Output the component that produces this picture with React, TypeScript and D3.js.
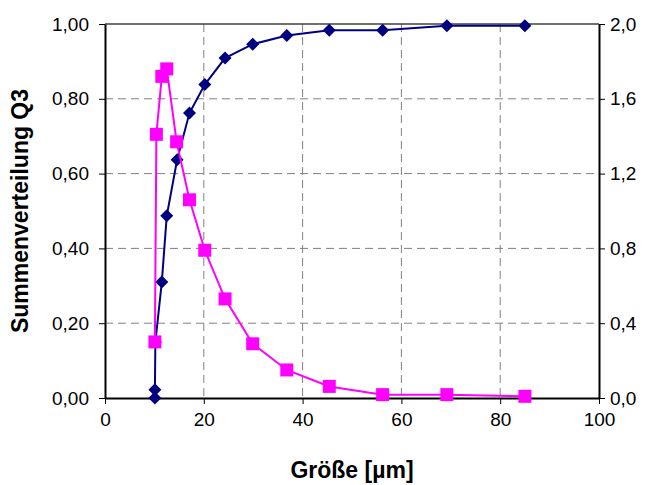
import React, { useEffect, useRef } from "react";
import * as d3 from "d3";

// Q3 (cumulative distribution, left axis)
const sizeQ3 = [10.1, 10.1, 10.2, 11.5, 12.5, 14.6, 17.1, 20.2, 24.3, 29.9, 36.8, 45.4, 56.2, 69.2, 85.0];
const valueQ3 = [0, 0.022, 0.15, 0.31, 0.487, 0.637, 0.762, 0.838, 0.909, 0.946, 0.969, 0.983, 0.983, 0.995, 0.995];

// q3 (density, right axis)
const sizeQ = [10.1, 10.4, 11.5, 12.5, 14.5, 17.1, 20.2, 24.3, 29.9, 36.8, 45.4, 56.2, 69.2, 85.0];
const valueQ = [0.3, 1.41, 1.72, 1.76, 1.37, 1.06, 0.79, 0.53, 0.29, 0.15, 0.062, 0.018, 0.018, 0.009];

const xTicks = [0, 20, 40, 60, 80, 100];
const leftTicks = [0, 0.2, 0.4, 0.6, 0.8, 1.0];
const rightTicks = [0, 0.4, 0.8, 1.2, 1.6, 2.0];

export default function App() {
  const ref = useRef<SVGSVGElement>(null);

  useEffect(() => {
    draw();
  }, []);

  let draw = () => {
    const svg = d3.select(ref.current);
    svg.selectAll("*").remove();

    const margin = { left: 105, top: 24, right: 48, bottom: 87 };
    const width = 647 - margin.left - margin.right;
    const height = 485 - margin.top - margin.bottom;
    const font = "Arial, 'Liberation Sans', sans-serif";

    const g = svg.append("g").attr("transform", `translate(${margin.left}, ${margin.top})`);

    const x = d3.scaleLinear().domain([0, 100]).range([0, width]);
    const yL = d3.scaleLinear().domain([0, 1]).range([height, 0]);
    const yR = d3.scaleLinear().domain([0, 2]).range([height, 0]);

    // grid
    g.append("g")
      .selectAll("line")
      .data(xTicks.slice(1, -1))
      .enter()
      .append("line")
      .attr("x1", (d) => x(d))
      .attr("x2", (d) => x(d))
      .attr("y1", 0)
      .attr("y2", height)
      .attr("stroke", "#808080")
      .attr("stroke-dasharray", "8,5");
    g.append("g")
      .selectAll("line")
      .data(leftTicks.slice(1, -1))
      .enter()
      .append("line")
      .attr("x1", 0)
      .attr("x2", width)
      .attr("y1", (d) => yL(d))
      .attr("y2", (d) => yL(d))
      .attr("stroke", "#808080")
      .attr("stroke-dasharray", "8,5");
    g.append("line")
      .attr("x1", 0)
      .attr("x2", width)
      .attr("y1", 0)
      .attr("y2", 0)
      .attr("stroke", "#404040")
      .attr("stroke-width", 1.5);

    // axes
    const styleAxis = (sel: any) => {
      sel.select(".domain").attr("stroke", "#000").attr("stroke-width", 2);
      sel.selectAll(".tick line").attr("stroke", "#000").attr("stroke-width", 1);
      sel.selectAll(".tick text").attr("fill", "#000").style("font-size", "19px").style("font-family", font);
    };

    g.append("g")
      .attr("transform", `translate(0, ${height})`)
      .call(d3.axisBottom(x).tickValues(xTicks).tickSize(6).tickSizeOuter(0).tickPadding(9))
      .call(styleAxis);

    const fmt2 = (d: any) => d3.format(".2f")(d).replace(".", ",");
    const fmt1 = (d: any) => d3.format(".1f")(d).replace(".", ",");

    g.append("g")
      .call(d3.axisLeft(yL).tickValues(leftTicks).tickFormat(fmt2).tickSize(6).tickSizeOuter(0).tickPadding(10))
      .call(styleAxis);

    g.append("g")
      .attr("transform", `translate(${width}, 0)`)
      .call(d3.axisRight(yR).tickValues(rightTicks).tickFormat(fmt1).tickSize(6).tickSizeOuter(0).tickPadding(5))
      .call(styleAxis);

    // Q3 line
    const dataQ3 = sizeQ3.map((s, i) => ({ s, v: valueQ3[i] }));
    const dataQ = sizeQ.map((s, i) => ({ s, v: valueQ[i] }));

    g.append("path")
      .datum(dataQ3)
      .attr("fill", "none")
      .attr("stroke", "#000080")
      .attr("stroke-width", 2)
      .attr("d", d3.line<any>().x((d) => x(d.s)).y((d) => yL(d.v)));

    g.selectAll(".dia")
      .data(dataQ3)
      .enter()
      .append("path")
      .attr("transform", (d) => `translate(${x(d.s)}, ${yL(d.v)})`)
      .attr("d", "M0,-6.5L6.5,0L0,6.5L-6.5,0Z")
      .attr("fill", "#000080");

    g.append("path")
      .datum(dataQ)
      .attr("fill", "none")
      .attr("stroke", "#ff00ff")
      .attr("stroke-width", 2)
      .attr("d", d3.line<any>().x((d) => x(d.s)).y((d) => yR(d.v)));

    g.selectAll(".sq")
      .data(dataQ)
      .enter()
      .append("rect")
      .attr("x", (d) => x(d.s) - 6.5)
      .attr("y", (d) => yR(d.v) - 6.5)
      .attr("width", 13)
      .attr("height", 13)
      .attr("fill", "#ff00ff");

    // titles
    svg.append("text")
      .attr("x", margin.left + width / 2)
      .attr("y", 478)
      .attr("text-anchor", "middle")
      .style("font-family", font)
      .style("font-size", "23px")
      .style("font-weight", "bold")
      .text("Größe [µm]");

    svg.append("text")
      .attr("transform", `translate(28, ${margin.top + height / 2}) rotate(-90)`)
      .attr("text-anchor", "middle")
      .style("font-family", font)
      .style("font-size", "23px")
      .style("font-weight", "bold")
      .text("Summenverteilung Q3");
  };

  return (
    <svg
      ref={ref}
      width={647}
      height={485}
      style={{ position: "absolute", left: 0, top: 0, background: "#fff" }}
    ></svg>
  );
}
